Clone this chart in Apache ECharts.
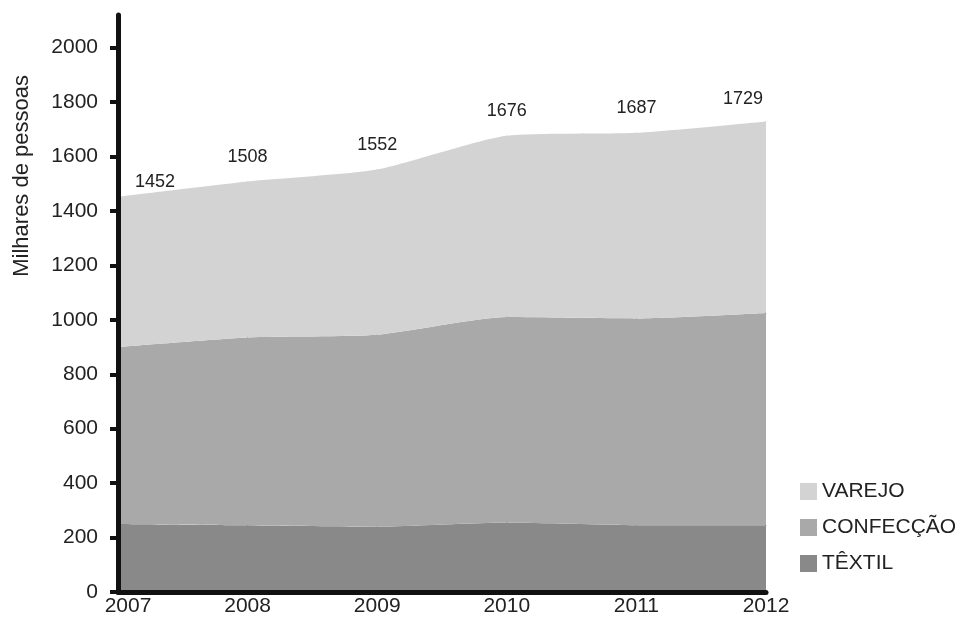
<!DOCTYPE html>
<html>
<head>
<meta charset="utf-8">
<script src="https://cdn.jsdelivr.net/npm/echarts@6/dist/echarts.min.js"></script>
<style>
  html, body { margin: 0; padding: 0; background: #fff; }
  #chart { width: 958px; height: 617px; }
</style>
</head>
<body>
<div id="chart"></div>
<script>
var anos = ['2007', '2008', '2009', '2010', '2011', '2012'];
var textil = [250, 245, 240, 255, 245, 245];
var confeccao = [650, 690, 705, 755, 760, 780];
var varejo = [552, 573, 607, 666, 682, 704];
var totais = [1452, 1508, 1552, 1676, 1687, 1729];
var yTicks = [0, 200, 400, 600, 800, 1000, 1200, 1400, 1600, 1800, 2000];

var fonte = '"Liberation Sans", Arial, sans-serif';
var chart = echarts.init(document.getElementById('chart'));

// rótulos dos totais acima da área (primeiro e último deslocados)
var varejoData = varejo.map(function (v, i) {
    var item = { value: v };
    if (i === 0) item.label = { offset: [37, 10] };
    if (i === varejo.length - 1) item.label = { offset: [-23, 2] };
    return item;
});

// o rótulo 2007 fica um pouco à direita do eixo
var xData = anos.map(function (a, i) {
    return i === 0 ? { value: a, textStyle: { padding: [0, 0, 0, 20] } } : a;
});

function serie(nome, dados, cor) {
    return {
        name: nome,
        type: 'line',
        stack: 'total',
        smooth: 0.2,
        symbol: 'circle',
        symbolSize: 1,
        lineStyle: { width: 0 },
        areaStyle: { color: cor, opacity: 1 },
        itemStyle: { color: cor },
        data: dados,
        z: 1
    };
}

var sVarejo = serie('VAREJO', varejoData, '#d3d3d3');
sVarejo.label = {
    show: true,
    position: 'top',
    distance: 15,
    fontFamily: fonte,
    fontSize: 18,
    color: '#222',
    formatter: function (p) { return totais[p.dataIndex]; }
};

var option = {
    backgroundColor: '#fff',
    animation: false,
    grid: { left: 118, right: 192, top: 15, bottom: 24 },
    legend: {
        orient: 'vertical',
        left: 795,
        top: 476,
        icon: 'rect',
        itemWidth: 17,
        itemHeight: 17,
        itemGap: 15,
        data: ['VAREJO', 'CONFECÇÃO', 'TÊXTIL'],
        textStyle: { fontFamily: fonte, fontSize: 21, color: '#222' }
    },
    graphic: [{
        type: 'text',
        left: 11,
        top: 75,
        rotation: Math.PI / 2,
        style: {
            text: 'Milhares de pessoas',
            font: '22px ' + fonte,
            fill: '#222'
        }
    }],
    xAxis: {
        type: 'category',
        data: xData,
        boundaryGap: false,
        z: 5,
        axisLine: { lineStyle: { color: '#111', width: 5 } },
        axisTick: { show: false },
        axisLabel: { margin: 4, fontFamily: fonte, fontSize: 21, color: '#222' }
    },
    yAxis: {
        type: 'value',
        min: 0,
        max: 2120,
        interval: 200,
        z: 5,
        splitLine: { show: false },
        axisLine: { show: true, lineStyle: { color: '#111', width: 5 } },
        axisTick: { show: true, length: 8, customValues: yTicks, lineStyle: { width: 4, color: '#111' } },
        axisLabel: {
            margin: 20,
            customValues: yTicks,
            fontFamily: fonte,
            fontSize: 21,
            color: '#222',
            formatter: function (v) { return String(v); }
        }
    },
    series: [
        serie('TÊXTIL', textil, '#898989'),
        serie('CONFECÇÃO', confeccao, '#a9a9a9'),
        sVarejo
    ]
};
chart.setOption(option);
</script>
</body>
</html>
